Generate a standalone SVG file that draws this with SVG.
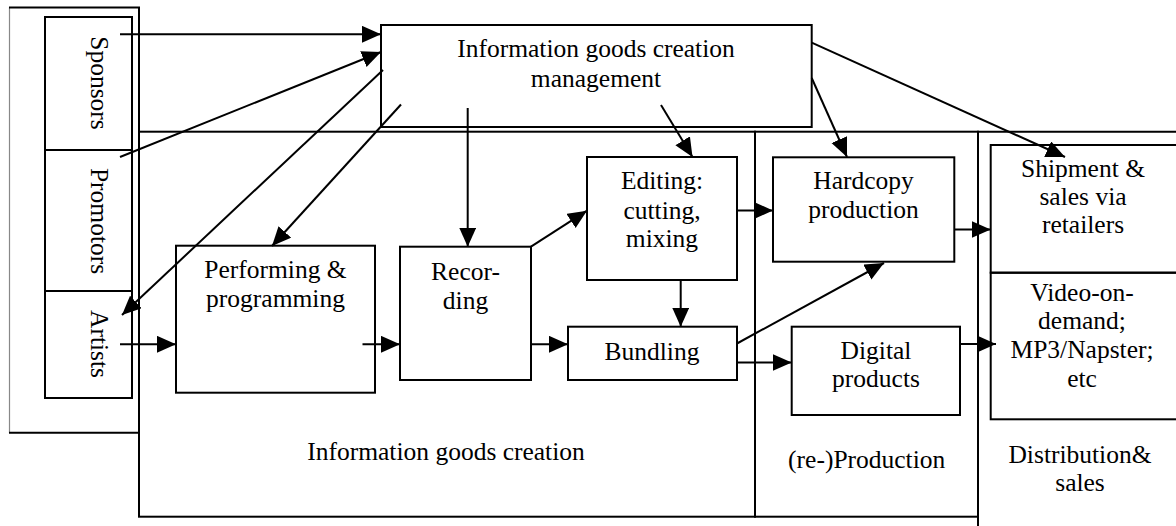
<svg xmlns="http://www.w3.org/2000/svg" width="1176" height="526" viewBox="0 0 1176 526">
<defs>
<style>
.b{fill:none;stroke:#000;stroke-width:2}
.t{font-family:'Liberation Serif','Tinos','DejaVu Serif',serif;font-size:25.5px;fill:#000;text-anchor:middle}
.c{fill:none;stroke:#000;stroke-width:2;marker-end:url(#ah)}
</style>
<marker id="ah" markerUnits="userSpaceOnUse" markerWidth="20" markerHeight="18" refX="19" refY="8.5" orient="auto">
<path d="M0,0 L19,8.5 L0,17 z" fill="#000"/>
</marker>
</defs>
<rect width="1176" height="526" fill="#fff"/>
<g id="frames">
<line x1="9.5" y1="7.5" x2="9.5" y2="432.7" stroke="#888" stroke-width="1.2"/>
<polyline class="b" points="9,7.5 139,7.5 139,131.7"/>
<line class="b" x1="9" y1="432.7" x2="139" y2="432.7"/>
<rect class="b" x="139" y="131.7" width="616" height="385"/>
<rect class="b" x="755" y="131.7" width="223" height="385"/>
<polyline class="b" points="1178,131.7 978,131.7 978,526"/>
</g>
<g id="stakeholders" font-family="Liberation Serif, serif">
<rect class="b" x="45" y="17" width="87" height="381" stroke="#222"/>
<line class="b" x1="45" y1="150" x2="132" y2="150"/>
<line class="b" x1="45" y1="291" x2="132" y2="291"/>
<text class="t" transform="translate(91,83) rotate(90)">Sponsors</text>
<text class="t" transform="translate(91,221) rotate(90)">Promotors</text>
<text class="t" transform="translate(91,344) rotate(90)">Artists</text>
</g>
<g id="management">
<rect class="b" x="381" y="25" width="430.7" height="102"/>
<text class="t" x="596" y="57">Information goods creation</text>
<text class="t" x="596" y="87">management</text>
</g>
<g id="performing">
<rect class="b" x="176" y="245.7" width="199" height="147"/>
<text class="t" x="275.5" y="278">Performing &amp;</text>
<text class="t" x="275.5" y="307">programming</text>
</g>
<g id="recording">
<rect class="b" x="400" y="246.7" width="131" height="133.3"/>
<text class="t" x="465.5" y="280">Recor-</text>
<text class="t" x="465.5" y="309">ding</text>
</g>
<g id="editing">
<rect class="b" x="587" y="157" width="150" height="123"/>
<text class="t" x="662" y="189">Editing:</text>
<text class="t" x="662" y="219">cutting,</text>
<text class="t" x="662" y="247">mixing</text>
</g>
<g id="bundling">
<rect class="b" x="568" y="326.7" width="169" height="53.3"/>
<text class="t" x="652" y="360">Bundling</text>
</g>
<g id="hardcopy">
<rect class="b" x="773" y="157.3" width="181.3" height="104.4"/>
<text class="t" x="863.5" y="189">Hardcopy</text>
<text class="t" x="863.5" y="217.5">production</text>
</g>
<g id="digital">
<rect class="b" x="791.7" y="326.7" width="168.3" height="88.3"/>
<text class="t" x="876" y="359">Digital</text>
<text class="t" x="876" y="387">products</text>
</g>
<g id="shipment">
<rect class="b" x="990.7" y="145" width="200" height="127.7"/>
<text class="t" x="1083" y="177">Shipment &amp;</text>
<text class="t" x="1083" y="205">sales via</text>
<text class="t" x="1083" y="233">retailers</text>
</g>
<g id="video">
<rect class="b" x="990.7" y="272.7" width="200" height="146.6"/>
<text class="t" x="1082" y="301">Video-on-</text>
<text class="t" x="1082" y="329">demand;</text>
<text class="t" x="1082" y="358">MP3/Napster;</text>
<text class="t" x="1082" y="386.5">etc</text>
</g>
<g id="labels">
<text class="t" x="446" y="460">Information goods creation</text>
<text class="t" x="866.7" y="468">(re-)Production</text>
<text class="t" x="1080" y="463">Distribution&amp;</text>
<text class="t" x="1080" y="491">sales</text>
</g>
<g id="connectors">
<line class="c" x1="120" y1="34.3" x2="381" y2="34.3"/>
<line class="c" x1="120" y1="157" x2="381" y2="52"/>
<line class="c" x1="383" y1="70" x2="122" y2="315"/>
<line class="c" x1="401" y1="104.5" x2="272" y2="246"/>
<line class="c" x1="467.7" y1="108" x2="467.7" y2="246.7"/>
<line class="c" x1="661" y1="105" x2="692.5" y2="157"/>
<line class="c" x1="811.7" y1="78" x2="847" y2="157"/>
<line class="c" x1="811.7" y1="42.7" x2="1065" y2="157"/>
<line class="c" x1="120" y1="344.3" x2="176" y2="344.3"/>
<line class="c" x1="362.5" y1="344.3" x2="400" y2="344.3"/>
<line class="c" x1="531" y1="344.3" x2="568" y2="344.3"/>
<line class="c" x1="531" y1="246.7" x2="587" y2="210.7"/>
<line class="c" x1="680.7" y1="280" x2="680.7" y2="326.7"/>
<line class="c" x1="737" y1="210.5" x2="773" y2="210.5"/>
<line class="c" x1="737" y1="343.5" x2="884" y2="263"/>
<line class="c" x1="737" y1="362.5" x2="791.7" y2="362.5"/>
<line class="c" x1="954.3" y1="229.5" x2="990.7" y2="229.5"/>
<line class="c" x1="960" y1="344" x2="996" y2="344"/>
</g>
</svg>
